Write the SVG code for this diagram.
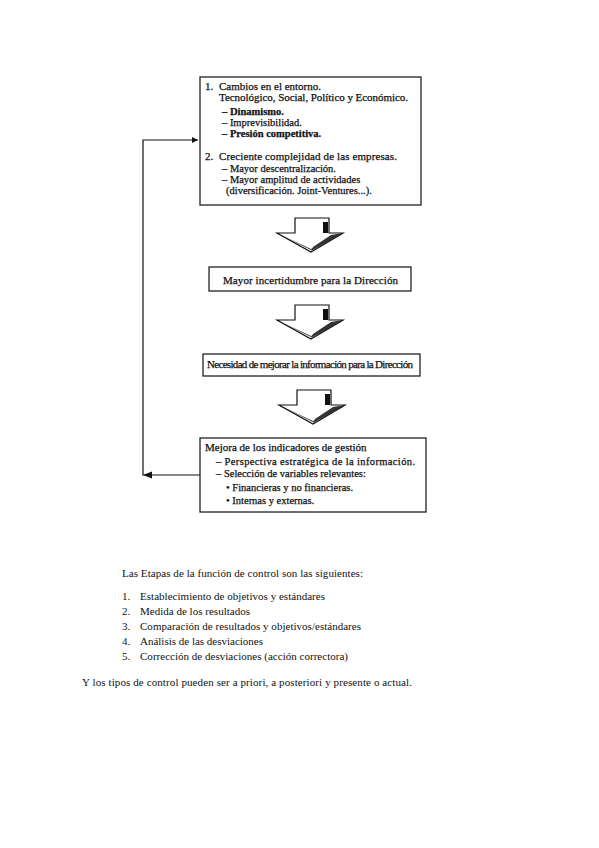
<svg xmlns="http://www.w3.org/2000/svg" width="599" height="848" viewBox="0 0 599 848">
<style>
.box{fill:#fff;stroke:#222;stroke-width:1.3}
.t{font-family:"Liberation Serif","Times New Roman",serif;font-size:11px;fill:#111}
.m{font-size:10.5px}
.d{stroke:#111;stroke-width:0.25}
.b{font-weight:bold}
.arr{fill:#fff;stroke:#111;stroke-width:1.2}
.conn{fill:none;stroke:#111;stroke-width:1.2}
</style>
<defs>
<marker id="ah" viewBox="0 0 10 10" refX="10" refY="5" markerWidth="9" markerHeight="6" orient="auto" markerUnits="userSpaceOnUse">
<path d="M0,0 L10,5 L0,10 z" fill="#111"/>
</marker>
<g id="blockArrow">
<path class="arr" d="M-16,0 H18 V15 H32 L0,34 L-34,15 H-16 Z"/>
<rect x="12" y="4" width="5" height="11" fill="#111"/>
<path d="M-30,17 L0,32 L30,17 L26,17 L0,31 Z" fill="#222"/>
<path d="M0,33 L32,15 L20,17 L2,29 Z" fill="#333"/>
</g>
</defs>
<g id="connectors">
<polyline class="conn" points="200,475 143,475 143,140 198,140" marker-end="url(#ah)"/>
<path d="M143,475 l9,-3.5 v7 z" fill="#111"/>
</g>
<g id="n1">
<rect class="box" x="200" y="77" width="221" height="128"/>
<text class="t d" x="205" y="90">1.</text>
<text class="t d" x="219" y="90">Cambios en el entorno.</text>
<text class="t d" x="219" y="101" textLength="189">Tecnológico, Social, Político y Económico.</text>
<text class="t m d b" x="222" y="115">– Dinamismo.</text>
<text class="t m d" x="222" y="126">– Imprevisibilidad.</text>
<text class="t m d b" x="222" y="137">– Presión competitiva.</text>
<text class="t d" x="205" y="160">2.</text>
<text class="t d" x="219" y="160" textLength="178">Creciente complejidad de las empresas.</text>
<text class="t m d" x="222" y="172">– Mayor descentralización.</text>
<text class="t m d" x="222" y="183">– Mayor amplitud de actividades</text>
<text class="t m d" x="226" y="194">(diversificación. Joint-Ventures...).</text>
</g>
<g id="a1"><use href="#blockArrow" transform="translate(311,218)"/></g>
<g id="n2">
<rect class="box" x="209" y="267" width="202" height="24"/>
<text class="t d" x="223" y="284" font-size="10.5" textLength="175">Mayor incertidumbre para la Dirección</text>
</g>
<g id="a2"><use href="#blockArrow" transform="translate(311,305)"/></g>
<g id="n3">
<rect class="box" x="203" y="354" width="217" height="22"/>
<text class="t d" x="207" y="368" font-size="8.5" textLength="206">Necesidad de mejorar la información para la Dirección</text>
</g>
<g id="a3"><use href="#blockArrow" transform="translate(313,390)"/></g>
<g id="n4">
<rect class="box" x="200" y="438" width="226" height="74"/>
<text class="t d" x="205" y="451">Mejora de los indicadores de gestión</text>
<text class="t m d" x="216" y="465" textLength="199">– Perspectiva estratégica de la información.</text>
<text class="t m d" x="216" y="477">– Selección de variables relevantes:</text>
<text class="t m d" x="226" y="491">• Financieras y no financieras.</text>
<text class="t m d" x="226" y="504">• Internas y externas.</text>
</g>
<g id="text">
<text class="t" x="122" y="577" textLength="241">Las Etapas de la función de control son las siguientes:</text>
<text class="t" x="122" y="600">1.</text><text class="t" x="140" y="600" textLength="185">Establecimiento de objetivos y estándares</text>
<text class="t" x="122" y="615">2.</text><text class="t" x="140" y="615" textLength="110">Medida de los resultados</text>
<text class="t" x="122" y="630">3.</text><text class="t" x="140" y="630" textLength="221">Comparación de resultados y objetivos/estándares</text>
<text class="t" x="122" y="645">4.</text><text class="t" x="140" y="645" textLength="123">Análisis de las desviaciones</text>
<text class="t" x="122" y="660">5.</text><text class="t" x="140" y="660" textLength="208">Corrección de desviaciones (acción correctora)</text>
<text class="t" x="82" y="686" textLength="330">Y los tipos de control pueden ser a priori, a posteriori y presente o actual.</text>
</g>
</svg>
